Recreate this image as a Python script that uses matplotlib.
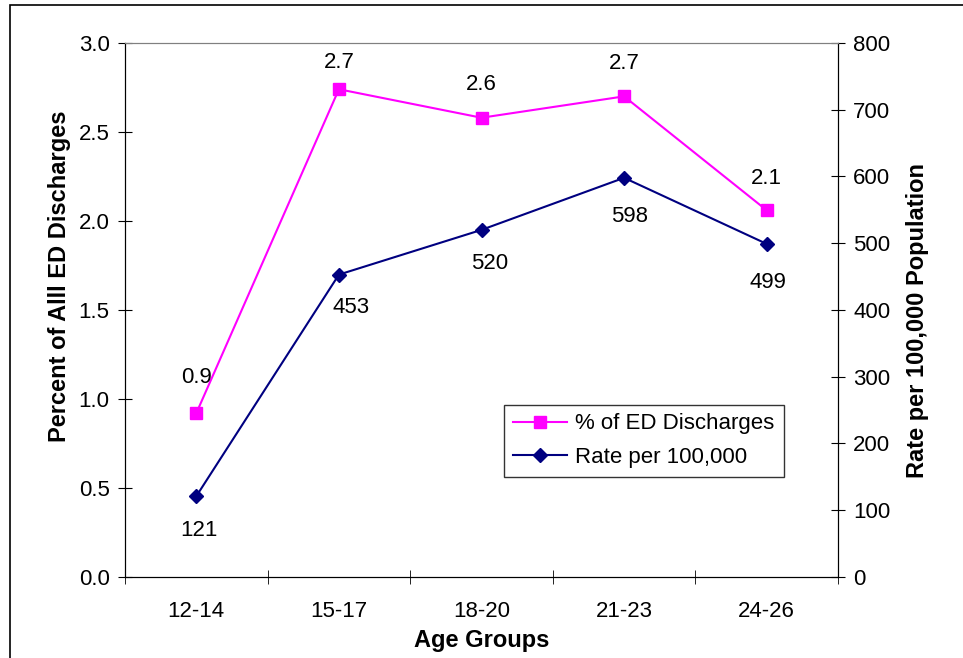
import matplotlib.pyplot as plt
import numpy as np
from matplotlib.patches import Rectangle

plt.rcParams['font.family'] = ['Liberation Sans', 'DejaVu Sans']

age_groups = ['12-14', '15-17', '18-20', '21-23', '24-26']
pct_discharges = [0.92, 2.74, 2.58, 2.70, 2.06]
pct_labels = ['0.9', '2.7', '2.6', '2.7', '2.1']
rate_per_100k = [121, 453, 520, 598, 499]
rate_labels = ['121', '453', '520', '598', '499']

fig = plt.figure(figsize=(9.63, 6.58), dpi=100)
ax = fig.add_axes([0.1298, 0.1231, 0.7404, 0.8116])
ax2 = ax.twinx()

x = np.arange(len(age_groups))
pink = '#FF00FF'
navy = '#000080'
fs = 16

l1, = ax.plot(x, pct_discharges, color=pink, lw=1.5, marker='s', ms=8,
              label='% of ED Discharges')
l2, = ax2.plot(x, rate_per_100k, color=navy, lw=1.5, marker='D', ms=7,
               label='Rate per 100,000')

# data labels (offsets in points)
pct_dy = [26, 19, 24, 24, 23]
for i, (v, t) in enumerate(zip(pct_discharges, pct_labels)):
    ax.annotate(t, (x[i], v), xytext=(0, pct_dy[i]), textcoords='offset points',
                ha='center', va='center', fontsize=fs)
rate_dx = [2, 9, 6, 4, 1]
rate_dy = [-25, -24, -24, -28, -28]
for i, (v, t) in enumerate(zip(rate_per_100k, rate_labels)):
    ax2.annotate(t, (x[i], v), xytext=(rate_dx[i], rate_dy[i]), textcoords='offset points',
                 ha='center', va='center', fontsize=fs)

ax.set_xlim(-0.5, 4.5)
ax.set_ylim(0, 3.0)
ax2.set_ylim(0, 800)
ax.set_yticks(np.arange(0, 3.01, 0.5))
ax.set_yticklabels([f'{v:.1f}' for v in np.arange(0, 3.01, 0.5)])
ax2.set_yticks(np.arange(0, 801, 100))

ax.set_xticks(x)
ax.set_xticklabels(age_groups)
ax.set_xticks(np.arange(-0.5, 4.6, 1), minor=True)
ax.tick_params(axis='x', which='major', length=0, labelsize=fs, pad=17)
ax.tick_params(axis='x', which='minor', direction='inout', length=10)
ax.tick_params(axis='y', direction='inout', length=10, labelsize=fs, pad=6)
ax2.tick_params(axis='y', direction='inout', length=10, labelsize=fs, pad=6)

for a in (ax, ax2):
    a.spines['top'].set_color('#808080')
    a.spines['left'].set_color('black')
    a.spines['right'].set_color('black')
    a.spines['bottom'].set_color('black')

ax.set_ylabel('Percent of Alll ED Discharges', fontsize=17, fontweight='bold')
ax.yaxis.set_label_coords(-0.0757, 0.5637)
ax2.set_ylabel('Rate per 100,000 Population', fontsize=17, fontweight='bold',
               rotation=90)
ax2.yaxis.set_label_coords(1.0954, 0.481)
ax.set_xlabel('Age Groups', fontsize=17, fontweight='bold', labelpad=5)

leg = ax.legend(handles=[l1, l2], loc='upper left', bbox_to_anchor=(0.532, 0.323),
                fontsize=fs, frameon=True, fancybox=False, edgecolor='black',
                handlelength=2.4, borderpad=0.4, labelspacing=0.55,
                handletextpad=0.4, borderaxespad=0)
leg.get_frame().set_linewidth(1.0)

# outer border
fig.patches.append(Rectangle((10 / 963, -0.1), 1.2, 1 - 5 / 658 + 0.1,
                             transform=fig.transFigure, fill=False,
                             edgecolor='black', lw=1.2))

fig.savefig('out.png', dpi=100)
